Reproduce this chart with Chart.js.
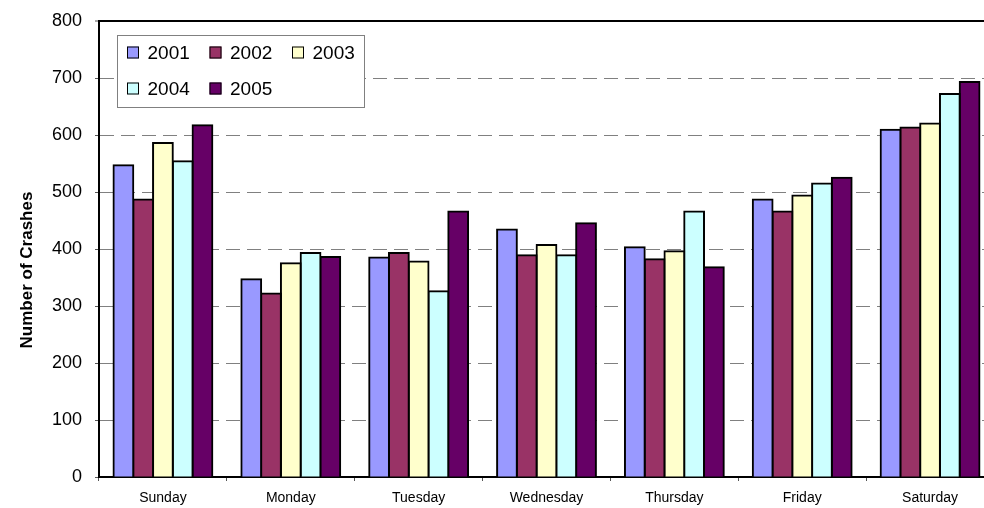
<!DOCTYPE html>
<html>
<head>
<meta charset="utf-8">
<script src="https://cdn.jsdelivr.net/npm/chart.js@4.4.1/dist/chart.umd.min.js"></script>
<style>
  html, body { margin: 0; padding: 0; background: #fff; overflow: hidden; }
  #wrap { width: 994px; height: 508px; }
</style>
</head>
<body>
<div id="wrap"><canvas id="c" width="994" height="508"></canvas></div>
<script>
const categories = ['Sunday', 'Monday', 'Tuesday', 'Wednesday', 'Thursday', 'Friday', 'Saturday'];
const seriesLabels = ['2001', '2002', '2003', '2004', '2005'];
const y2001 = [547, 347, 385, 434, 403, 487, 609];
const y2002 = [487, 322, 393, 389, 382, 466, 613];
const y2003 = [586, 375, 378, 407, 396, 494, 620];
const y2004 = [554, 393, 326, 389, 466, 515, 672];
const y2005 = [617, 386, 466, 445, 368, 525, 693];
const yTicks = [0, 100, 200, 300, 400, 500, 600, 700, 800];
const yTitle = 'Number of Crashes';

const colors = ['#9999FF', '#993366', '#FFFFCC', '#CCFFFF', '#660066'];
const values = [y2001, y2002, y2003, y2004, y2005];
const FONT = "'Liberation Sans', Arial, sans-serif";

const boxLegend = {
  id: 'boxLegend',
  afterDraw(chart) {
    const ctx = chart.ctx;
    const x0 = 117, y0 = 35, w = 247, h = 72;
    ctx.save();
    ctx.fillStyle = '#fff';
    ctx.fillRect(x0, y0, w, h);
    ctx.strokeStyle = '#808080';
    ctx.lineWidth = 1;
    ctx.strokeRect(x0 + 0.5, y0 + 0.5, w, h);
    const colX = [127, 209.5, 292];
    const rowY = [52.5, 88.5];
    ctx.font = '19px ' + FONT;
    ctx.textBaseline = 'middle';
    ctx.textAlign = 'left';
    chart.data.datasets.forEach((ds, i) => {
      const r = Math.floor(i / 3), c = i % 3;
      const mx = colX[c], my = rowY[r];
      ctx.fillStyle = ds.backgroundColor;
      ctx.fillRect(mx, my - 6, 12, 12);
      ctx.strokeStyle = '#000';
      ctx.lineWidth = 1;
      ctx.strokeRect(mx + 0.5, my - 5.5, 11, 11);
      ctx.fillStyle = '#000';
      ctx.fillText(ds.label, mx + 20.5, my + 1);
    });
    ctx.restore();
  }
};

const yTitlePlugin = {
  id: 'yTitlePlugin',
  afterDraw(chart) {
    const ctx = chart.ctx;
    ctx.save();
    ctx.translate(27, 270);
    ctx.rotate(-Math.PI / 2);
    ctx.font = 'bold 17px ' + FONT;
    ctx.fillStyle = '#000';
    ctx.textAlign = 'center';
    ctx.textBaseline = 'middle';
    ctx.fillText(yTitle, 0, 0);
    ctx.restore();
  }
};

new Chart(document.getElementById('c'), {
  type: 'bar',
  data: {
    labels: categories,
    datasets: seriesLabels.map((lab, i) => ({
      label: lab,
      data: values[i],
      backgroundColor: colors[i],
      borderColor: '#000',
      borderWidth: 2,
      inflateAmount: 1,
      categoryPercentage: 0.773,
      barPercentage: 1.0
    }))
  },
  options: {
    responsive: false,
    animation: false,
    devicePixelRatio: 1,
    layout: { padding: { top: 21, left: 0, right: 0, bottom: 0 } },
    plugins: {
      legend: { display: false },
      tooltip: { enabled: false }
    },
    scales: {
      x: {
        afterFit(scale) { scale.height = 31; scale.paddingLeft = 0; scale.paddingRight = 0; },
        grid: {
          display: true,
          drawOnChartArea: false,
          drawTicks: true,
          tickLength: 4,
          tickColor: '#555',
          offset: true
        },
        border: { display: true, color: '#000', width: 2 },
        ticks: {
          color: '#000',
          font: { family: FONT, size: 14 },
          padding: 9,
          maxRotation: 0
        }
      },
      y: {
        min: 0,
        max: 800,
        afterFit(scale) { scale.width = 99; scale.paddingTop = 0; scale.paddingBottom = 0; },
        afterBuildTicks(scale) { scale.ticks = yTicks.map(v => ({ value: v })); },
        grid: {
          color: (c) => (c.tick && c.tick.value === 800) ? '#000' : '#808080',
          lineWidth: (c) => (c.tick && c.tick.value === 800) ? 2 : 1,
          drawTicks: true,
          tickLength: 4,
          tickColor: '#555',
          tickWidth: 1
        },
        border: {
          display: true,
          color: '#000',
          width: 2,
          dash: (c) => (c.tick && (c.tick.value === 800 || c.tick.value === 0)) ? [] : [14, 7]
        },
        ticks: {
          color: '#000',
          font: { family: FONT, size: 18 },
          padding: 13
        }
      }
    }
  },
  plugins: [boxLegend, yTitlePlugin]
});
</script>
</body>
</html>
